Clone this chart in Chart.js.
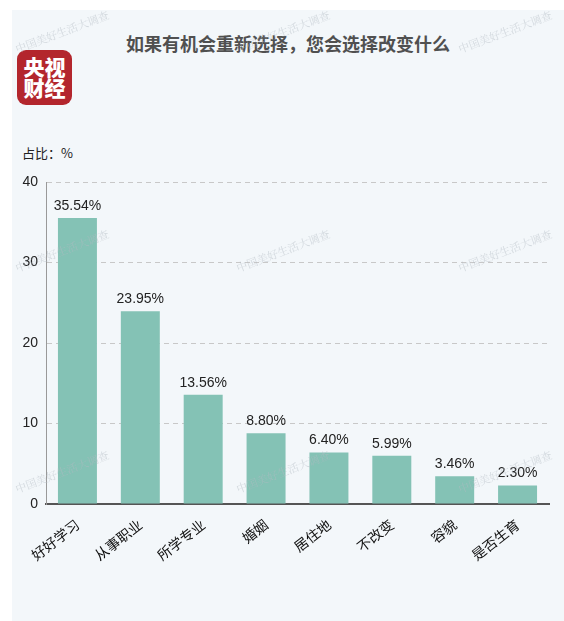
<!DOCTYPE html>
<html>
<head>
<meta charset="utf-8">
<script src="https://cdn.jsdelivr.net/npm/chart.js@4"></script>
<style>
  body { margin: 0; background: #fff; width: 564px; height: 621px; overflow: hidden; position: relative;
         font-family: "Noto Sans CJK SC", "Liberation Sans", sans-serif; }
  .panel { position: absolute; left: 12px; top: 10px; width: 552px; height: 611px; background: #F3F7FA; }
  .title { position: absolute; left: 12px; width: 552px; top: 31px; text-align: center;
           font-size: 18px; font-weight: bold; color: #505050; line-height: 24px; }
  .logo { position: absolute; left: 17px; top: 50px; width: 55px; height: 55px; border-radius: 9px;
          background: #B3262D; color: #fff; font-weight: 900; font-size: 21px; line-height: 21px;
          text-align: center; padding-top: 6px; box-sizing: border-box; }
  .unit { position: absolute; left: 22px; top: 144px; font-size: 13px; color: #222; line-height: 18px; }
  canvas { position: absolute; left: 0; top: 0; }
</style>
</head>
<body>
<div class="panel"></div>
<div class="title">如果有机会重新选择，您会选择改变什么</div>
<div class="logo">央视<br>财经</div>
<div class="unit">占比：%</div>
<canvas id="myBarChart" width="564" height="621"></canvas>
<script>
// categories and values (%)
const categories = ['好好学习', '从事职业', '所学专业', '婚姻', '居住地', '不改变', '容貌', '是否生育'];
const shares = [35.54, 23.95, 13.56, 8.80, 6.40, 5.99, 3.46, 2.30];
const yTicks = [0, 10, 20, 30, 40];
const watermark = '中国美好生活大调查';

const ctx = document.getElementById('myBarChart').getContext('2d');

// value labels above the bars
const valueLabels = {
  id: 'valueLabels',
  afterDatasetsDraw(chart) {
    const c = chart.ctx;
    const meta = chart.getDatasetMeta(0);
    c.save();
    c.font = '14px "Liberation Sans", Arial, sans-serif';
    c.fillStyle = '#222';
    c.textAlign = 'center';
    c.textBaseline = 'bottom';
    meta.data.forEach((bar, i) => {
      c.fillText(shares[i].toFixed(2) + '%', bar.x, bar.y - 5);
    });
    c.restore();
  }
};

// faint watermark text
const watermarks = {
  id: 'watermarks',
  afterDraw(chart) {
    const c = chart.ctx;
    c.save();
    c.font = '11px "Noto Serif CJK SC", serif';
    c.fillStyle = 'rgba(180,188,196,0.5)';
    c.textAlign = 'center';
    c.textBaseline = 'middle';
    [32, 251, 472].forEach(y => {
      [62, 283, 505].forEach(x => {
        c.save();
        c.translate(x, y);
        c.rotate(-0.36);
        c.fillText(watermark, 0, 0);
        c.restore();
      });
    });
    c.restore();
  }
};

const data = {
  labels: categories,
  datasets: [{
    data: shares,
    backgroundColor: '#84C2B5',
    borderWidth: 0,
    barPercentage: 0.62,
    categoryPercentage: 1.0
  }]
};

const config = {
  type: 'bar',
  data: data,
  options: {
    responsive: false,
    animation: false,
    layout: { padding: { left: 18, right: 15, top: 182, bottom: 0 } },
    plugins: {
      legend: { display: false },
      tooltip: { enabled: false }
    },
    scales: {
      x: {
        grid: { display: false },
        border: { color: '#555', width: 2 },
        ticks: {
          color: '#111',
          font: { size: 14, family: '"Noto Sans CJK SC", sans-serif' },
          minRotation: 38,
          maxRotation: 38,
          padding: 4
        },
        afterFit: (s) => { s.height = 117; }
      },
      y: {
        min: 0,
        max: 40,
        afterBuildTicks: (s) => { s.ticks = yTicks.map(v => ({ value: v })); },
        grid: { color: '#c8c8c8', drawTicks: false },
        border: { color: '#999', width: 1, dash: [5, 4] },
        ticks: {
          color: '#222',
          padding: 8,
          font: { size: 14, family: '"Liberation Sans", Arial, sans-serif' }
        },
        afterFit: (s) => { s.width = 28; }
      }
    }
  },
  plugins: [valueLabels, watermarks]
};

new Chart(ctx, config);
</script>
</body>
</html>
